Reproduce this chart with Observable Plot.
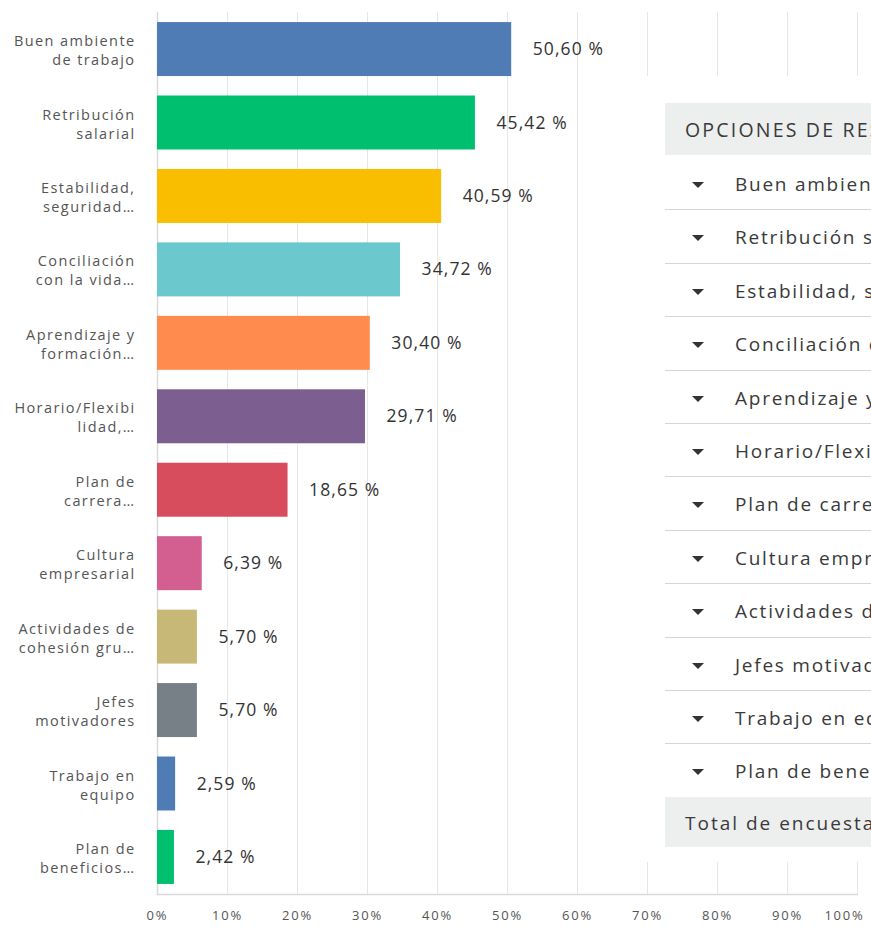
<!DOCTYPE html>
<html>
<head>
<meta charset="utf-8">
<script src="https://cdn.jsdelivr.net/npm/d3@7"></script>
<script src="https://cdn.jsdelivr.net/npm/@observablehq/plot@0.6"></script>
<style>
  html, body { margin: 0; padding: 0; background: #fff; overflow: hidden; width: 871px; height: 927px; }
  #wrap { position: relative; width: 871px; height: 927px; }
  #wrap g[aria-description="value-labels"] text { letter-spacing: 1.1px; }
  #wrap g[aria-description="category-labels"] text { letter-spacing: 1.4px; }
  #wrap g[aria-description="x-ticks"] text { letter-spacing: 1.8px; }
  #table { position: absolute; left: 640px; top: 76px; width: 420px; height: 786px; background: #fff;
           font-family: "Open Sans", sans-serif; color: #3a3a3a; }
  #table .hdr { position: absolute; left: 25px; top: 27px; width: 400px; height: 52px; background: #edeeee;
           font-size: 19.5px; line-height: 53px; padding-left: 20px; letter-spacing: 2.2px; white-space: nowrap; box-sizing: border-box; }
  #table .row { position: absolute; left: 25px; width: 400px; height: 53.4px; border-bottom: 1.5px solid #d6d6d6;
           box-sizing: border-box; font-size: 19px; line-height: 54px; white-space: nowrap; padding-left: 70px; letter-spacing: 1.75px; }
  #table .row .tri { position: absolute; left: 27px; top: 25px; width: 0; height: 0;
           border-left: 6px solid transparent; border-right: 6px solid transparent; border-top: 6px solid #333; }
  #table .tot { position: absolute; left: 25px; top: 721px; width: 400px; height: 50px; background: #edeeee;
           font-size: 19px; line-height: 52px; padding-left: 20px; white-space: nowrap; box-sizing: border-box; letter-spacing: 2px; }
</style>
</head>
<body>
<div id="wrap"></div>
<script>
const categories = [
  "Buen ambiente de trabajo", "Retribución salarial", "Estabilidad, seguridad laboral",
  "Conciliación con la vida personal", "Aprendizaje y formación continua", "Horario/Flexibilidad, teletrabajo",
  "Plan de carrera profesional", "Cultura empresarial", "Actividades de cohesión grupal",
  "Jefes motivadores", "Trabajo en equipo", "Plan de beneficios sociales"
];
const tickLabels = [
  "Buen ambiente\nde trabajo", "Retribución\nsalarial", "Estabilidad,\nseguridad…",
  "Conciliación\ncon la vida…", "Aprendizaje y\nformación…", "Horario/Flexibi\nlidad,…",
  "Plan de\ncarrera…", "Cultura\nempresarial", "Actividades de\ncohesión gru…",
  "Jefes\nmotivadores", "Trabajo en\nequipo", "Plan de\nbeneficios…"
];
const values = [50.60, 45.42, 40.59, 34.72, 30.40, 29.71, 18.65, 6.39, 5.70, 5.70, 2.59, 2.42];
const palette = ["#507cb6", "#00bf6f", "#f9be00", "#6bc8cd", "#ff8b4f", "#7d5e90",
                 "#d84d5d", "#d25f90", "#c8b878", "#768086", "#507cb6", "#00bf6f"];
const xTicks = [0, 10, 20, 30, 40, 50, 60, 70, 80, 90, 100];
const tableHeader = "OPCIONES DE RESPUESTA";
const tableTotal = "Total de encuestados";

const data = categories.map((c, i) => ({cat: c, label: tickLabels[i], value: values[i]}));
const fmt = v => v.toFixed(2).replace(".", ",") + " %";

const chart = Plot.plot({
  width: 871,
  height: 927,
  marginLeft: 157,
  marginRight: 14,
  marginTop: 12,
  marginBottom: 33,
  style: {fontFamily: "Open Sans, sans-serif", background: "#fff", overflow: "visible"},
  x: {domain: [0, 100], axis: null},
  y: {domain: categories, paddingInner: 0.265, paddingOuter: 0.137, round: false, axis: null},
  color: {domain: categories, range: palette},
  marks: [
    Plot.gridX(xTicks, {stroke: "#e6e6e6", strokeOpacity: 1, strokeWidth: 1}),
    Plot.frame({anchor: "bottom", stroke: "#d9d9d9", strokeWidth: 1.5}),
    Plot.frame({anchor: "left", stroke: "#d9d9d9", strokeWidth: 1.5}),
    Plot.barX(data, {y: "cat", x: "value", fill: "cat"}),
    Plot.text(data, {y: "cat", x: "value", text: d => fmt(d.value), textAnchor: "start", dx: 21,
                     fontSize: 17.5, fill: "#333", ariaDescription: "value-labels"}),
    Plot.text(data, {y: "cat", text: "label", frameAnchor: "left", textAnchor: "end", dx: -22,
                     fontSize: 14.5, lineHeight: 1.31, fill: "#555", ariaDescription: "category-labels"}),
    Plot.axisX(xTicks.slice(0, -1), {label: null, tickSize: 0, tickPadding: 16, tickFormat: d => d + "%",
                        fontSize: 13, fill: "#555", ariaDescription: "x-ticks"}),
    Plot.axisX(xTicks.slice(-1), {label: null, tickSize: 0, tickPadding: 16, tickFormat: d => d + "%",
                        fontSize: 13, fill: "#555", dx: -13, ariaDescription: "x-ticks"})
  ]
});
const wrap = document.getElementById("wrap");
wrap.appendChild(chart);

const table = document.createElement("div");
table.id = "table";
const hdr = document.createElement("div");
hdr.className = "hdr";
hdr.textContent = tableHeader;
table.appendChild(hdr);
categories.forEach((c, i) => {
  const r = document.createElement("div");
  r.className = "row";
  r.style.top = (81 + i * 53.4) + "px";
  const t = document.createElement("span");
  t.className = "tri";
  r.appendChild(t);
  r.appendChild(document.createTextNode(c));
  table.appendChild(r);
});
const tot = document.createElement("div");
tot.className = "tot";
tot.textContent = tableTotal;
table.appendChild(tot);
wrap.appendChild(table);
</script>
</body>
</html>
